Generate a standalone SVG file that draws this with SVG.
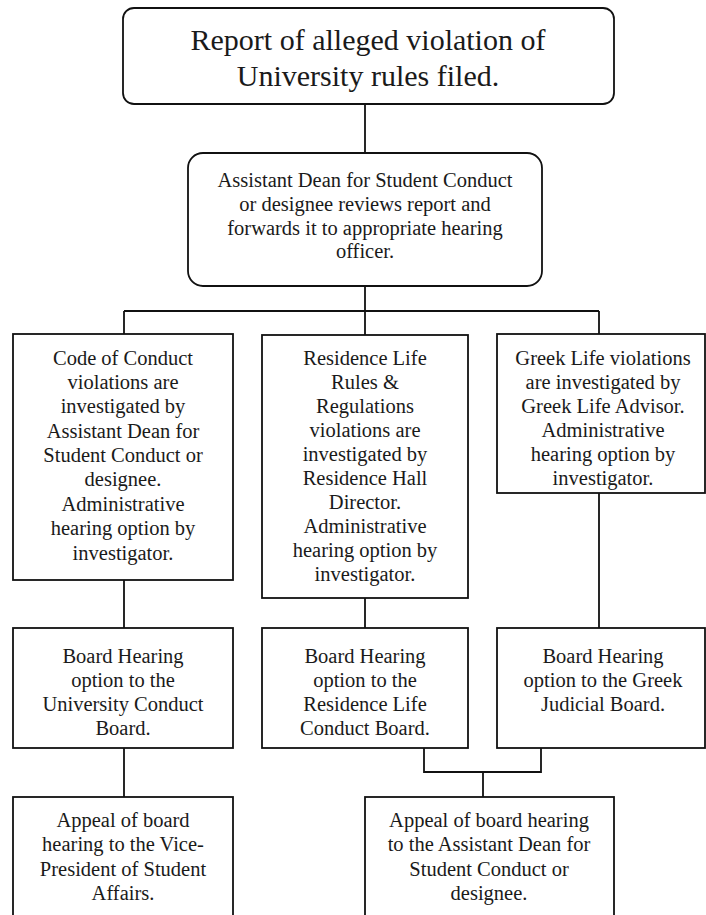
<svg xmlns="http://www.w3.org/2000/svg" width="706" height="915" viewBox="0 0 706 915">
<style>
.box{fill:#fff;stroke:#111;stroke-width:1.8}
.ln{fill:none;stroke:#111;stroke-width:1.8}
text{font-family:"Liberation Serif","Times New Roman",serif;fill:#1a1a1a;text-anchor:middle;font-size:20.5px}
.big{font-size:30px}
</style>
<rect width="706" height="915" fill="#fff"/>
<g id="connectors">
<path class="ln" d="M365,104 V153 M365,286 V311 M124,311 H599 M124,311 V334 M365,311 V335 M599,311 V334"/>
<path class="ln" d="M124,580 V628 M365,598 V628 M599,493 V628"/>
<path class="ln" d="M124,748 V797 M424,748 V772 H541 V748 M483,772 V797"/>
</g>
<g id="report">
<rect class="box" x="123" y="8" width="491" height="96" rx="11"/>
<text class="big" x="368" y="50">Report of alleged violation of</text>
<text class="big" x="368" y="86">University rules filed.</text>
</g>
<g id="review">
<rect class="box" x="188" y="153" width="354" height="133" rx="15"/>
<text x="365" y="187">Assistant Dean for Student Conduct</text>
<text x="365" y="211">or designee reviews report and</text>
<text x="365" y="235">forwards it to appropriate hearing</text>
<text x="365" y="258">officer.</text>
</g>
<g id="code">
<rect class="box" x="13" y="334" width="220" height="246"/>
<text x="123" y="365">Code of Conduct</text>
<text x="123" y="389">violations are</text>
<text x="123" y="413">investigated by</text>
<text x="123" y="438">Assistant Dean for</text>
<text x="123" y="462">Student Conduct or</text>
<text x="123" y="486">designee.</text>
<text x="123" y="511">Administrative</text>
<text x="123" y="535">hearing option by</text>
<text x="123" y="560">investigator.</text>
</g>
<g id="residence">
<rect class="box" x="262" y="335" width="206" height="263"/>
<text x="365" y="365">Residence Life</text>
<text x="365" y="389">Rules &amp;</text>
<text x="365" y="413">Regulations</text>
<text x="365" y="437">violations are</text>
<text x="365" y="461">investigated by</text>
<text x="365" y="485">Residence Hall</text>
<text x="365" y="509">Director.</text>
<text x="365" y="533">Administrative</text>
<text x="365" y="557">hearing option by</text>
<text x="365" y="581">investigator.</text>
</g>
<g id="greek">
<rect class="box" x="497" y="334" width="208" height="159"/>
<text x="603" y="365">Greek Life violations</text>
<text x="603" y="389">are investigated by</text>
<text x="603" y="413">Greek Life Advisor.</text>
<text x="603" y="437">Administrative</text>
<text x="603" y="461">hearing option by</text>
<text x="603" y="485">investigator.</text>
</g>
<g id="board-university">
<rect class="box" x="13" y="628" width="220" height="120"/>
<text x="123" y="663">Board Hearing</text>
<text x="123" y="687">option to the</text>
<text x="123" y="711">University Conduct</text>
<text x="123" y="735">Board.</text>
</g>
<g id="board-residence">
<rect class="box" x="262" y="628" width="206" height="120"/>
<text x="365" y="663">Board Hearing</text>
<text x="365" y="687">option to the</text>
<text x="365" y="711">Residence Life</text>
<text x="365" y="735">Conduct Board.</text>
</g>
<g id="board-greek">
<rect class="box" x="497" y="628" width="208" height="120"/>
<text x="603" y="663">Board Hearing</text>
<text x="603" y="687">option to the Greek</text>
<text x="603" y="711">Judicial Board.</text>
</g>
<g id="appeal-vp">
<rect class="box" x="13" y="797" width="220" height="130"/>
<text x="123" y="827">Appeal of board</text>
<text x="123" y="851">hearing to the Vice-</text>
<text x="123" y="876">President of Student</text>
<text x="123" y="900">Affairs.</text>
</g>
<g id="appeal-dean">
<rect class="box" x="365" y="797" width="249" height="130"/>
<text x="489" y="827">Appeal of board hearing</text>
<text x="489" y="851">to the Assistant Dean for</text>
<text x="489" y="876">Student Conduct or</text>
<text x="489" y="900">designee.</text>
</g>
</svg>
